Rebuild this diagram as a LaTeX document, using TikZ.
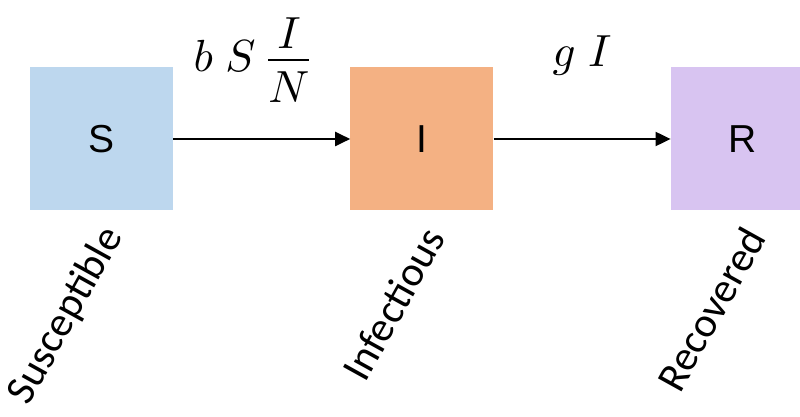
\documentclass[tikz,border=0pt]{standalone}
\usepackage{amsmath}
\usepackage{fontspec}
\setsansfont{Carlito}
\newfontfamily\boxfont{Liberation Sans}
\usetikzlibrary{arrows.meta, positioning}

\definecolor{suscol}{HTML}{BDD7EE}
\definecolor{infcol}{HTML}{F4B183}
\definecolor{reccol}{HTML}{D8C4F1}

\begin{document}
\begin{tikzpicture}[x=1pt, y=1pt, node distance=177pt,
                    comp/.style={minimum size=143pt, inner sep=0pt,
                            font=\boxfont\fontsize{39}{44}\selectfont},
                    tag/.style={rotate=61, anchor=east, inner sep=0pt,
                            font=\sffamily\fontsize{42}{48}\selectfont},
                    rate/.style={scale=4.5, inner sep=0pt, anchor=base},
                    flow/.style={-{Triangle[length=15pt, width=14pt]}, line width=2pt}]
                \useasboundingbox (0,0) rectangle (800,417);
                \node[comp, fill=suscol] (S) at (101.5,278) {S};
                \node[comp, fill=infcol, right=of S] (I) {I};
                \node[comp, fill=reccol, right=of I] (R) {R};
                \node[tag] (susc) at ([xshift=12pt, yshift=-20pt]S.south) {Susceptible};
                \node[tag] (infc) at ([xshift=12pt, yshift=-20pt]I.south) {Infectious};
                \node[tag] (recv) at ([xshift=12pt, yshift=-20pt]R.south) {Recovered};
                \draw[flow] (S) -- node[xshift=-7.5pt, yshift=67.5pt, rate] (infrate)
                        {$b\;S\,\dfrac{\raisebox{-1.6pt}{$I$}}{N}$} (I);
                \draw[flow] (I) -- node[yshift=72.5pt, rate] (recrate) {$g\;I$} (R);
            \end{tikzpicture}
\end{document}
